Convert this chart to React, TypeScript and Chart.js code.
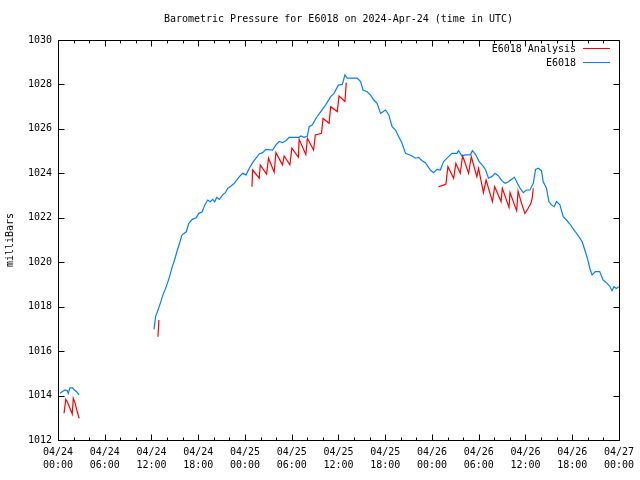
import React, { useEffect, useRef } from "react";
import { Chart, registerables } from "chart.js";

Chart.register(...registerables);

// ---------- text ----------
const TITLE = "Barometric Pressure for E6018 on 2024-Apr-24 (time in UTC)";
const Y_LABEL = "milliBars";
const SERIES_NAMES = ["E6018 Analysis", "E6018"];

// ---------- axes ----------
const X_MIN = 0; // hours since 04/24 00:00 UTC
const X_MAX = 72;
const X_MAJOR_STEP = 6;
const X_MINOR_STEP = 2;
const Y_MIN = 1012;
const Y_MAX = 1030;
const Y_STEP = 2;
const X_TICK_HOURS = [0, 6, 12, 18, 24, 30, 36, 42, 48, 54, 60, 66, 72];
const X_TICK_DATES = ["04/24", "04/24", "04/24", "04/24", "04/25", "04/25", "04/25", "04/25", "04/26", "04/26", "04/26", "04/26", "04/27"];
const X_TICK_TIMES = ["00:00", "06:00", "12:00", "18:00", "00:00", "06:00", "12:00", "18:00", "00:00", "06:00", "12:00", "18:00", "00:00"];

// ---------- E6018 (observed) : hours, mBar ; null = gap ----------
const blueHours = [
  0.26, 0.68, 0.9, 1.19, 1.32, 1.53, 1.88, 2.05, 2.39, 2.72,
  7.5,
  12.32, 12.53, 12.83, 13.13, 13.47, 13.9, 14.32, 14.67, 14.96, 15.26,
  15.6, 15.9, 16.46, 16.79, 17.23, 17.74, 18.07, 18.51, 18.84, 19.22,
  19.53, 19.86, 20.12, 20.37, 20.72, 21.14, 21.49, 21.78, 22.22, 22.64,
  22.93, 23.28, 23.7, 24.13, 24.56, 24.98, 25.41, 25.83, 26.26, 26.69,
  27.54, 27.97, 28.39, 28.81, 29.25, 29.67, 30.95, 31.17, 31.59, 32.01,
  32.23, 32.65, 33.09, 33.73, 34.36, 35.0, 35.43, 35.98, 36.49, 36.83,
  37.13, 38.41, 38.84, 39.14, 39.69, 40.12, 40.54, 40.96, 41.4, 42.04,
  42.46, 42.88, 43.32, 43.74, 44.16, 44.6, 45.02, 45.44, 45.87, 46.3,
  46.72, 47.15, 47.79, 48.21, 48.64, 49.07, 49.49, 50.13, 50.56, 51.2,
  51.41, 51.84, 52.27, 52.91, 53.2, 53.62, 54.06, 54.61, 54.9, 55.25,
  55.67, 56.1, 56.53, 56.95, 57.38, 57.81, 58.23, 58.58, 58.87, 59.3,
  59.72, 60.14, 60.58, 61.0, 61.3, 61.64, 62.06, 62.28, 62.7, 63.01,
  63.34, 63.69, 63.98, 64.42, 64.84, 65.26, 65.7, 65.99, 66.41, 66.85,
  67.27, 67.62, 67.95, 68.26, 68.55, 68.97, 69.53, 69.96, 70.38, 70.81,
  71.11, 71.36, 71.66, 71.97,
];
const bluePressure = [
  1014.1, 1014.2, 1014.25, 1014.22, 1014.1, 1014.35, 1014.35, 1014.27, 1014.17, 1014.03,
  null,
  1016.98, 1017.55, 1017.85, 1018.15, 1018.53, 1018.9, 1019.35, 1019.8, 1020.1, 1020.47,
  1020.85, 1021.22, 1021.37, 1021.75, 1021.93, 1022.0, 1022.2, 1022.27, 1022.58, 1022.8,
  1022.72, 1022.83, 1022.72, 1022.92, 1022.83, 1023.03, 1023.13, 1023.33, 1023.43, 1023.55,
  1023.7, 1023.85, 1024.0, 1023.93, 1024.23, 1024.48, 1024.68, 1024.87, 1024.93, 1025.08,
  1025.05, 1025.28, 1025.43, 1025.38, 1025.47, 1025.62, 1025.62, 1025.68, 1025.62, 1025.68,
  1026.1, 1026.18, 1026.47, 1026.78, 1027.08, 1027.45, 1027.6, 1027.97, 1028.0, 1028.43,
  1028.28, 1028.28, 1028.13, 1027.75, 1027.67, 1027.52, 1027.3, 1027.15, 1026.7, 1026.85,
  1026.63, 1026.1, 1025.95, 1025.65, 1025.35, 1024.9, 1024.85, 1024.78, 1024.68, 1024.72,
  1024.57, 1024.48, 1024.15, 1024.03, 1024.18, 1024.15, 1024.53, 1024.75, 1024.9, 1024.9,
  1025.02, 1024.78, 1024.83, 1024.83, 1025.02, 1024.83, 1024.53, 1024.3, 1024.15, 1023.78,
  1023.85, 1024.0, 1023.88, 1023.67, 1023.55, 1023.62, 1023.73, 1023.82, 1023.62, 1023.33,
  1023.13, 1023.25, 1023.25, 1023.55, 1024.18, 1024.23, 1024.12, 1023.62, 1023.33, 1022.73,
  1022.58, 1022.5, 1022.73, 1022.58, 1022.05, 1021.9, 1021.72, 1021.57, 1021.37, 1021.15,
  1020.93, 1020.55, 1020.18, 1019.73, 1019.43, 1019.58, 1019.58, 1019.2, 1019.08, 1018.93,
  1018.72, 1018.9, 1018.82, 1018.9,
];

// ---------- E6018 Analysis : hours, mBar ; null = gap ----------
const redHours = [
  0.77, 1.0, 1.19, 1.53, 1.83, 1.96, 2.21, 2.47, 2.72,
  7.5,
  12.83, 12.95,
  18.0,
  24.9, 24.98, 25.83, 25.96, 26.77, 27.02, 27.75, 27.97, 28.81, 29.03,
  29.76, 30.02, 30.86, 30.95, 31.81, 32.01, 32.8, 33.03, 33.82, 34.02,
  34.79, 35.0, 35.85, 36.07, 36.83, 37.0,
  42.0,
  48.85, 49.49, 49.79, 49.92, 50.05, 50.78, 51.07, 51.63, 51.93, 52.19,
  52.7, 53.05, 53.76, 53.98, 54.61, 54.95, 55.76, 56.05, 56.87, 57.03,
  57.89, 58.02, 58.87, 59.05, 59.5, 59.93, 60.35, 60.7, 60.87, 61.0,
];
const redPressure = [
  1013.2, 1013.83, 1013.72, 1013.43, 1013.17, 1013.88, 1013.65, 1013.27, 1012.98,
  null,
  1016.65, 1017.4,
  null,
  1023.4, 1024.15, 1023.78, 1024.38, 1023.97, 1024.68, 1024.05, 1024.93, 1024.38, 1024.78,
  1024.38, 1025.13, 1024.72, 1025.53, 1024.85, 1025.58, 1025.05, 1025.73, 1025.8, 1026.47,
  1026.25, 1027.0, 1026.78, 1027.48, 1027.23, 1028.08,
  null,
  1023.4, 1023.47, 1023.52, 1023.93, 1024.3, 1023.78, 1024.45, 1024.0, 1024.78, 1024.53,
  1024.0, 1024.75, 1023.85, 1024.23, 1023.13, 1023.7, 1022.73, 1023.4, 1022.73, 1023.33,
  1022.47, 1023.13, 1022.32, 1023.2, 1022.65, 1022.2, 1022.43, 1022.65, 1022.88, 1023.33,
];

const RED = "#ff0000";
const BLUE = "#0080ff";
const FONT_FAMILY = '"DejaVu Sans Mono", "Liberation Mono", monospace';
const FONT_SIZE = 10;

const toPoints = (xs: number[], ys: (number | null)[]) =>
  xs.map((x, i) => ({ x, y: ys[i] }));

const framePlugin = {
  id: "gnuplotFrame",
  afterDraw(chart: any) {
    const ctx = chart.ctx as CanvasRenderingContext2D;
    const { left, right, top, bottom } = chart.chartArea;
    const xs = chart.scales.x;
    const ys = chart.scales.y;
    ctx.save();
    ctx.strokeStyle = "#000";
    ctx.lineWidth = 1;
    // frame
    const L = Math.round(left) + 0.5;
    const R = Math.round(right) + 0.5;
    const T = Math.round(top) + 0.5;
    const B = Math.round(bottom) + 0.5;
    ctx.beginPath();
    ctx.rect(L, T, R - L, B - T);
    ctx.stroke();
    // x ticks
    ctx.beginPath();
    for (let h = X_MIN; h <= X_MAX; h += X_MINOR_STEP) {
      const px = Math.round(xs.getPixelForValue(h)) + 0.5;
      const len = h % X_MAJOR_STEP === 0 ? 6 : 3;
      ctx.moveTo(px, B);
      ctx.lineTo(px, B - len);
      ctx.moveTo(px, T);
      ctx.lineTo(px, T + len);
    }
    // y ticks
    for (let v = Y_MIN; v <= Y_MAX; v += Y_STEP) {
      const py = Math.round(ys.getPixelForValue(v)) + 0.5;
      ctx.moveTo(L, py);
      ctx.lineTo(L + 6, py);
      ctx.moveTo(R, py);
      ctx.lineTo(R - 6, py);
    }
    ctx.stroke();

    // title
    ctx.fillStyle = "#000";
    ctx.font = `${FONT_SIZE}px ${FONT_FAMILY}`;
    ctx.textAlign = "center";
    ctx.textBaseline = "middle";
    ctx.fillText(TITLE, (left + right) / 2, 19);

    // y label
    ctx.save();
    ctx.translate(10, (top + bottom) / 2);
    ctx.rotate(-Math.PI / 2);
    ctx.fillText(Y_LABEL, 0, 0);
    ctx.restore();

    // legend
    const colors = [RED, BLUE];
    ctx.textAlign = "right";
    SERIES_NAMES.forEach((name, i) => {
      const y = 49 + i * 14;
      ctx.fillStyle = "#000";
      ctx.fillText(name, 576, y);
      ctx.strokeStyle = colors[i];
      ctx.beginPath();
      ctx.moveTo(583, Math.round(y) - 0.5);
      ctx.lineTo(610, Math.round(y) - 0.5);
      ctx.stroke();
    });
    ctx.restore();
  },
};

export default function App() {
  const canvasRef = useRef<HTMLCanvasElement | null>(null);

  useEffect(() => {
    if (!canvasRef.current) return;
    const chart = new Chart(canvasRef.current, {
      type: "line",
      data: {
        datasets: [
          {
            label: SERIES_NAMES[0],
            data: toPoints(redHours, redPressure) as any,
            borderColor: RED,
            backgroundColor: RED,
            borderWidth: 1.2,
            pointRadius: 0,
            tension: 0,
            spanGaps: false,
            order: 0,
          },
          {
            label: SERIES_NAMES[1],
            data: toPoints(blueHours, bluePressure) as any,
            borderColor: BLUE,
            backgroundColor: BLUE,
            borderWidth: 1.2,
            pointRadius: 0,
            tension: 0,
            spanGaps: false,
            order: 1,
          },
        ],
      },
      options: {
        animation: false,
        responsive: false,
        devicePixelRatio: 1,
        layout: { padding: { top: 40, right: 19, left: 0, bottom: 0 } },
        plugins: {
          legend: { display: false },
          title: { display: false },
          tooltip: { enabled: false },
        },
        scales: {
          x: {
            type: "linear",
            min: X_MIN,
            max: X_MAX,
            grid: { display: false, drawTicks: false, tickLength: 0 },
            border: { display: false },
            afterBuildTicks: (scale: any) => {
              scale.ticks = X_TICK_HOURS.map((v) => ({ value: v }));
            },
            afterFit: (scale: any) => {
              scale.height = 40;
            },
            ticks: {
              autoSkip: false,
              maxRotation: 0,
              minRotation: 0,
              padding: 6,
              color: "#000",
              font: { family: FONT_FAMILY, size: FONT_SIZE, lineHeight: 1.3 },
              callback: (value: any) => {
                const i = X_TICK_HOURS.indexOf(Number(value));
                return i >= 0 ? [X_TICK_DATES[i], X_TICK_TIMES[i]] : "";
              },
            },
          },
          y: {
            type: "linear",
            min: Y_MIN,
            max: Y_MAX,
            grid: { display: false, drawTicks: false, tickLength: 0 },
            border: { display: false },
            afterFit: (scale: any) => {
              scale.width = 58;
            },
            ticks: {
              stepSize: Y_STEP,
              padding: 6,
              color: "#000",
              font: { family: FONT_FAMILY, size: FONT_SIZE },
              callback: (value: any) => String(Math.round(Number(value))),
            },
          },
        },
      },
      plugins: [framePlugin],
    });
    return () => chart.destroy();
  }, []);

  return (
    <div style={{ position: "fixed", left: 0, top: 0, width: 640, height: 480, background: "#fff" }}>
      <canvas ref={canvasRef} width={640} height={480} style={{ display: "block" }} />
    </div>
  );
}
